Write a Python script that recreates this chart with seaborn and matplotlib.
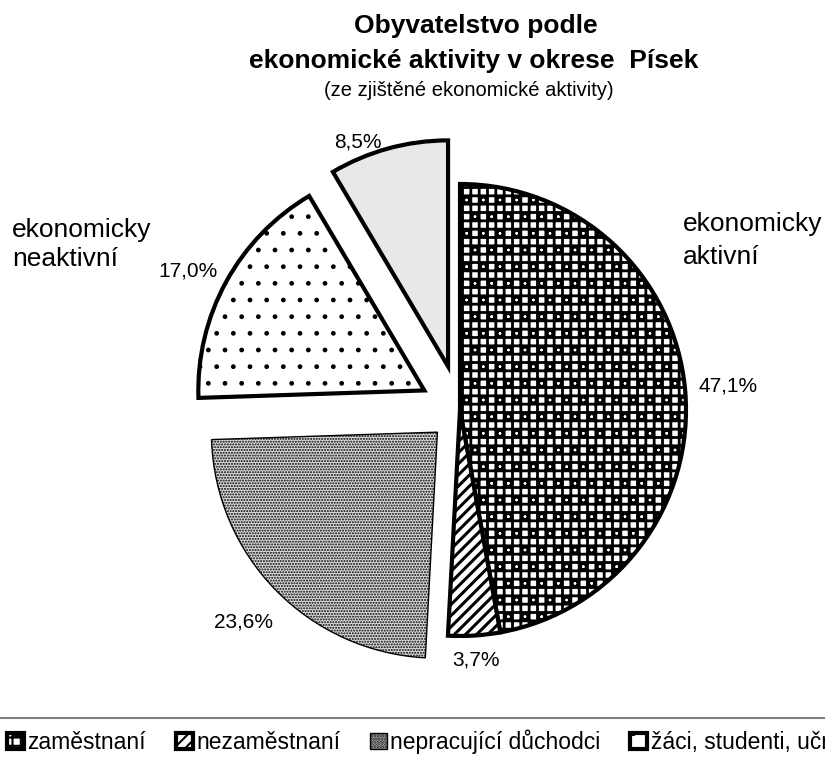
import numpy as np
import matplotlib
matplotlib.use('Agg')
import matplotlib.pyplot as plt
from matplotlib.lines import Line2D
import seaborn as sns

# data
categories = ['zaměstnaní', 'nezaměstnaní', 'nepracující důchodci', 'žáci, studenti, učni',
              'osoby v domácnosti, děti předškolního věku, ostatní závislé osoby']
shares = [47.1, 3.7, 23.6, 17.0, 8.5]

# styling per slice
explode = [0, 0, 0.14, 0.18, 0.2]
hatches = ['++o', '///', '......', '.', '']
faces = ['white', 'white', '#dcdcdc', 'white', '#e8e8e8']
edge_widths = [3, 3, 1, 3, 3]
hatch_widths = [2.0, 2.2, 1.0, 1.0, 1.0]
label_dist = [1.19, 1.11, 1.2, 1.17, 1.068]
label_turn = [0, 0, 0, 2, 6.6]

sns.set_theme(style='white')
plt.rcParams['font.family'] = ['Liberation Sans', 'DejaVu Sans']
plt.rcParams['text.color'] = 'black'
plt.rcParams['hatch.linewidth'] = 1.5

W, H, dpi = 825, 774, 100
cx, cy, R = 460, 410, 226

fig = plt.figure(figsize=(W / dpi, H / dpi), dpi=dpi)
ax = fig.add_axes([0, 0, 1, 1])

wedges, _, autotexts = ax.pie(
    shares, explode=explode, startangle=90, counterclock=False,
    autopct=lambda p: f'{p:.1f}%'.replace('.', ','), pctdistance=1.15,
    wedgeprops=dict(edgecolor='black'),
    textprops=dict(fontsize=15, color='black'))


def with_hatch_width(draw, lw):
    def _draw(renderer):
        with plt.rc_context({'hatch.linewidth': lw}):
            draw(renderer)
    return _draw


for w, h, fc, lw, hlw, t, d, turn in zip(wedges, hatches, faces, edge_widths,
                                         hatch_widths, autotexts, label_dist, label_turn):
    w.set_facecolor(fc)
    w.set_hatch(h)
    w.set_linewidth(lw)
    if hasattr(w, 'set_hatch_linewidth'):
        w.set_hatch_linewidth(hlw)
    w.draw = with_hatch_width(w.draw, hlw)
    ang = np.deg2rad((w.theta1 + w.theta2) / 2 + turn)
    x0, y0 = w.center
    t.set_position((x0 + d * np.cos(ang), y0 + d * np.sin(ang)))

ax.set_aspect('auto')
ax.set_xlim(-cx / R, (W - cx) / R)
ax.set_ylim(-(H - cy) / R, cy / R)
ax.axis('off')

# titles
fig.text(476 / W, 1 - 33 / H, 'Obyvatelstvo podle', ha='center', va='baseline',
         fontsize=19, fontweight='bold')
fig.text(474 / W, 1 - 68 / H, 'ekonomické aktivity v okrese  Písek', ha='center',
         va='baseline', fontsize=19, fontweight='bold')
fig.text(469 / W, 1 - 96 / H, '(ze zjištěné ekonomické aktivity)',
         ha='center', va='baseline', fontsize=14.5)

# group labels
fig.text(683 / W, 1 - 212 / H, 'ekonomicky\naktivní', ha='left', va='top',
         fontsize=19, linespacing=1.45)
fig.text(12 / W, 1 - 218 / H, 'ekonomicky\nneaktivní', ha='left', va='top',
         fontsize=19, linespacing=1.25)

# legend strip
fig.add_artist(Line2D([0, 1], [1 - 718 / H] * 2, color='#7f7f7f', lw=1.5,
                      transform=fig.transFigure))
fig.legend(wedges, categories, loc='upper left',
           bbox_to_anchor=(-4.5 / W, 1 - 718 / H), ncol=5, frameon=False,
           fontsize=16.5, handlelength=0.74, handleheight=0.74,
           handletextpad=0.15, columnspacing=1.3, borderpad=0.5,
           borderaxespad=0)

fig.savefig('out.png', dpi=dpi)
